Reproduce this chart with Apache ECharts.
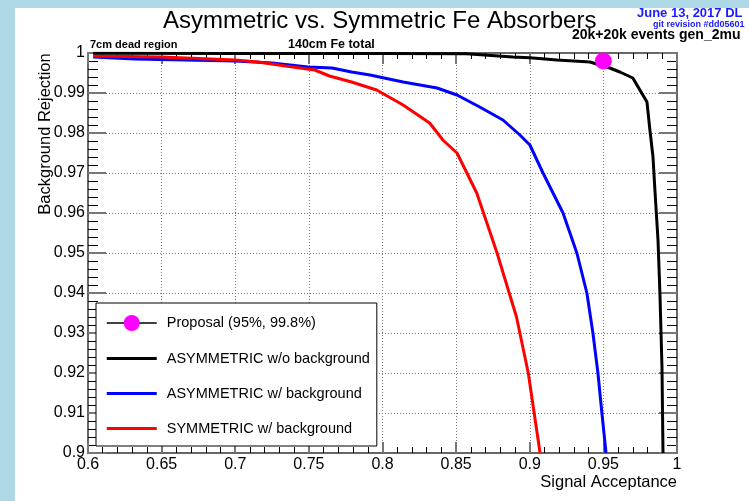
<!DOCTYPE html>
<html>
<head>
<meta charset="utf-8">
<script src="https://cdn.jsdelivr.net/npm/echarts@6/dist/echarts.min.js"></script>
<style>
    html, body { margin: 0; padding: 0; background: #fff; }
    #main { width: 749px; height: 501px; }
</style>
</head>
<body>
<div id="main"></div>
<script>
    // 数据 (从图上读出来的)
    var asymNoBgX = [0.6035, 0.70, 0.80, 0.857, 0.8886, 0.9001, 0.9185, 0.9409, 0.9544, 0.9612, 0.970, 0.9748, 0.9796, 0.9816, 0.9837, 0.985, 0.9871, 0.9884, 0.9898, 0.9905];
    var asymNoBgY = [0.99995, 0.9999, 0.99985, 0.9998, 0.999, 0.9988, 0.99825, 0.99775, 0.99625, 0.99525, 0.99375, 0.99075, 0.98775, 0.98075, 0.974, 0.96575, 0.95325, 0.94, 0.9215, 0.9];

    var asymBgX = [0.6035, 0.632, 0.666, 0.700, 0.725, 0.7494, 0.7657, 0.779, 0.7915, 0.814, 0.837, 0.8506, 0.866, 0.8818, 0.8933, 0.9001, 0.909, 0.9226, 0.932, 0.9388, 0.9429, 0.9463, 0.949, 0.9518];
    var asymBgY = [0.999, 0.9985, 0.99825, 0.998, 0.9975, 0.9965, 0.99625, 0.99525, 0.9945, 0.99275, 0.99125, 0.9895, 0.9865, 0.98325, 0.9795, 0.977, 0.97, 0.96, 0.95, 0.94, 0.93, 0.92, 0.91, 0.9];

    var symBgX = [0.6035, 0.650, 0.700, 0.7155, 0.734, 0.754, 0.764, 0.779, 0.796, 0.814, 0.832, 0.841, 0.8506, 0.864, 0.8778, 0.891, 0.899, 0.907];
    var symBgY = [0.99925, 0.999, 0.99825, 0.99775, 0.99675, 0.99575, 0.99425, 0.99275, 0.99075, 0.987, 0.9825, 0.97825, 0.975, 0.965, 0.95, 0.934, 0.92, 0.9];

    var proposalX = [0.95];
    var proposalY = [0.998];

    var seriesNames = ['Proposal (95%, 99.8%)', 'ASYMMETRIC w/o background', 'ASYMMETRIC w/ background', 'SYMMETRIC w/ background'];

    function zip(xs, ys) {
        var out = [];
        for (var i = 0; i < xs.length; i++) {
            out.push([xs[i], ys[i]]);
        }
        return out;
    }

    var chart = echarts.init(document.getElementById('main'));

    var fontName = '"Liberation Sans", Arial, sans-serif';
    var lineIcon = 'path://M0,0 L50,0 L50,3 L0,3 Z'; // 图例里只画一条粗线

    // ROOT风格的坐标轴：刻度朝里，主刻度灰色，次刻度黑色
    function frameAxis(opt) {
        var base = {
            type: 'value',
            axisLine: { show: true, onZero: false, lineStyle: { color: '#666', width: 2 } },
            axisTick: { show: true, inside: true, length: opt.tickLen, lineStyle: { color: '#777', width: 2 } },
            minorTick: { show: true, splitNumber: 5, length: opt.minorLen, lineStyle: { color: '#000', width: 1 } },
            splitLine: { show: false },
            axisLabel: { show: false }
        };
        for (var k in opt.extra) {
            base[k] = opt.extra[k];
        }
        return base;
    }

    chart.setOption({
        backgroundColor: '#fff',
        animation: false,
        textStyle: { fontFamily: fontName },
        graphic: [
            // 左边和上边的浅蓝色边
            { type: 'rect', shape: { x: 0, y: 0, width: 15, height: 501 }, style: { fill: '#add8e6' }, silent: true, z: -1 },
            { type: 'rect', shape: { x: 0, y: 0, width: 749, height: 8 }, style: { fill: '#add8e6' }, silent: true, z: -1 },
            { type: 'text', left: 163, top: 9, style: { text: 'Asymmetric vs. Symmetric Fe Absorbers', font: '24px ' + fontName, fill: '#000' } },
            { type: 'text', left: 637, top: 7, style: { text: 'June 13, 2017 DL', font: 'bold 13px ' + fontName, fill: '#1a1aff' } },
            { type: 'text', left: 653, top: 20, style: { text: 'git revision #dd05601', font: 'bold 9px ' + fontName, fill: '#1a1aff' } },
            { type: 'text', left: 572, top: 28, style: { text: '20k+20k events gen_2mu', font: 'bold 14px ' + fontName, fill: '#000' } },
            { type: 'text', left: 90, top: 39, style: { text: '7cm dead region', font: 'bold 11px ' + fontName, fill: '#000' } },
            { type: 'text', left: 288, top: 38, style: { text: '140cm Fe total', font: 'bold 12.5px ' + fontName, fill: '#000' } },
            { type: 'text', x: 45, y: 134, rotation: Math.PI / 2,
              style: { text: 'Background Rejection', font: '16.5px ' + fontName, fill: '#000', align: 'center', verticalAlign: 'middle' } },
            { type: 'text', x: 677, y: 482,
              style: { text: 'Signal Acceptance', font: '16.5px ' + fontName, fill: '#000', align: 'right', verticalAlign: 'middle' } }
        ],
        grid: { left: 88, right: 72, top: 53, bottom: 48 },
        legend: {
            orient: 'vertical',
            left: 96,
            top: 303,
            padding: [12, 7, 10, 10],
            itemWidth: 50,
            itemHeight: 20,
            itemGap: 20,
            backgroundColor: '#fff',
            borderColor: '#000',
            borderWidth: 1,
            borderRadius: 0,
            lineStyle: { width: 'inherit' },
            textStyle: { fontSize: 14.5, color: '#000', padding: [0, 0, 0, 5], fontFamily: fontName },
            data: [
                { name: seriesNames[0] },
                { name: seriesNames[1], icon: lineIcon },
                { name: seriesNames[2], icon: lineIcon },
                { name: seriesNames[3], icon: lineIcon }
            ]
        },
        xAxis: [
            frameAxis({ tickLen: 11, minorLen: 6, extra: {
                min: 0.6, max: 1, interval: 0.05, position: 'bottom',
                axisLabel: { show: true, color: '#000', fontSize: 16, margin: 4, fontFamily: fontName },
                splitLine: { show: true, lineStyle: { color: '#777', type: [1, 2], width: 1 } }
            } }),
            frameAxis({ tickLen: 11, minorLen: 6, extra: { min: 0.6, max: 1, interval: 0.05, position: 'top' } })
        ],
        yAxis: [
            frameAxis({ tickLen: 18, minorLen: 10, extra: {
                min: 0.9, max: 1, interval: 0.01, position: 'left',
                axisLabel: { show: true, color: '#000', fontSize: 16, margin: 3, fontFamily: fontName },
                splitLine: { show: true, lineStyle: { color: '#777', type: [1, 2], width: 1 } }
            } }),
            frameAxis({ tickLen: 18, minorLen: 10, extra: { min: 0.9, max: 1, interval: 0.01, position: 'right' } })
        ],
        series: [
            {
                name: seriesNames[2],
                type: 'line',
                symbol: 'none',
                lineStyle: { color: '#0000ff', width: 3 },
                itemStyle: { color: '#0000ff' },
                data: zip(asymBgX, asymBgY)
            },
            {
                name: seriesNames[3],
                type: 'line',
                symbol: 'none',
                lineStyle: { color: '#ff0000', width: 3 },
                itemStyle: { color: '#ff0000' },
                data: zip(symBgX, symBgY)
            },
            {
                name: seriesNames[1],
                type: 'line',
                symbol: 'none',
                lineStyle: { color: '#000', width: 3 },
                itemStyle: { color: '#000' },
                data: zip(asymNoBgX, asymNoBgY)
            },
            {
                name: seriesNames[0], /*提案点*/
                type: 'line',
                symbol: 'circle',
                symbolSize: 17,
                clip: false,
                lineStyle: { color: '#000', width: 1.5 },
                itemStyle: { color: '#ff00ff' },
                data: zip(proposalX, proposalY)
            }
        ]
    });
</script>
</body>
</html>
